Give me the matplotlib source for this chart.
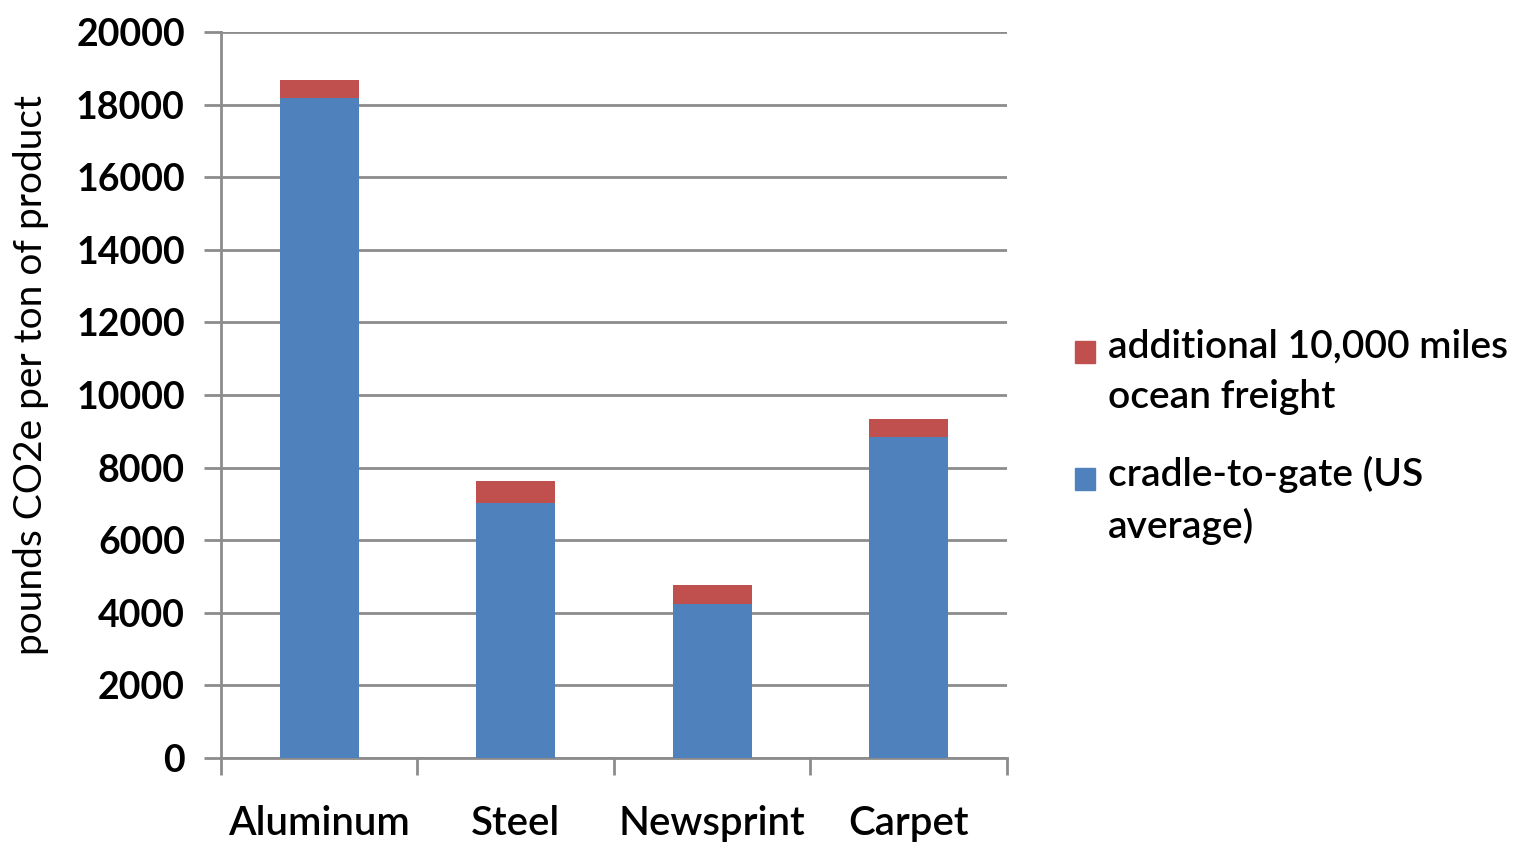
import matplotlib
matplotlib.use("Agg")
import matplotlib.pyplot as plt
from matplotlib.patches import Rectangle
import numpy as np

plt.rcParams['font.family'] = ['Lato', 'DejaVu Sans']

# pounds CO2e per ton of product
products = ['Aluminum', 'Steel', 'Newsprint', 'Carpet']
cradle_to_gate = [18170, 7030, 4230, 8830]
ocean_freight = [520, 600, 540, 520]

series_labels = ['additional 10,000 miles\nocean freight', 'cradle-to-gate (US\naverage)']
BLUE = '#4F81BD'
RED = '#C0504D'
GRID = '#8C8C8C'

fig = plt.figure(figsize=(15.22, 8.47), dpi=100)
ax = fig.add_axes([0.1452, 0.1051, 0.6616 - 0.1452, 0.9622 - 0.1051])

x = np.arange(len(products))
ax.bar(x, cradle_to_gate, width=0.4, color=BLUE, zorder=3)
ax.bar(x, ocean_freight, width=0.4, bottom=cradle_to_gate, color=RED, zorder=3)

ax.set_xlim(-0.5, len(products) - 0.5)
ax.set_ylim(0, 20000)
ax.set_yticks(np.arange(0, 20001, 2000))
ax.yaxis.grid(True, color=GRID, linewidth=2, zorder=0)
ax.set_axisbelow(True)

# category labels centred under bars, ticks on the category boundaries
ax.set_xticks(np.arange(-0.5, len(products), 1.0))
ax.set_xticklabels([])
ax.set_xticks(x, minor=True)
ax.set_xticklabels(products, minor=True, fontsize=29, fontweight='semibold')
ax.tick_params(axis='x', which='minor', length=0, pad=34)
ax.tick_params(axis='x', which='major', length=12, width=2, color=GRID)
ax.tick_params(axis='y', length=12, width=2, color=GRID, labelsize=27, pad=14)
for lbl in ax.get_yticklabels():
    lbl.set_fontweight('bold')

for side in ['top', 'right']:
    ax.spines[side].set_visible(False)
for side in ['left', 'bottom']:
    ax.spines[side].set_color(GRID)
    ax.spines[side].set_linewidth(2)

ax.set_ylabel('pounds CO2e per ton of product', fontsize=28)
ax.yaxis.set_label_coords(-0.219, 0.527)

# legend: red series listed first, square aligned with the first text line
legend_items = [(RED, series_labels[0], 0.585), (BLUE, series_labels[1], 0.435)]
for color, text, ytop in legend_items:
    fig.patches.append(Rectangle((0.7065, ytop - 0.013), 0.013, 0.025,
                                 transform=fig.transFigure, color=color))
    fig.text(0.728, ytop + 0.027, text, fontsize=28, fontweight='semibold',
             va='top', ha='left', linespacing=1.5)

fig.savefig('out.png', dpi=100)
